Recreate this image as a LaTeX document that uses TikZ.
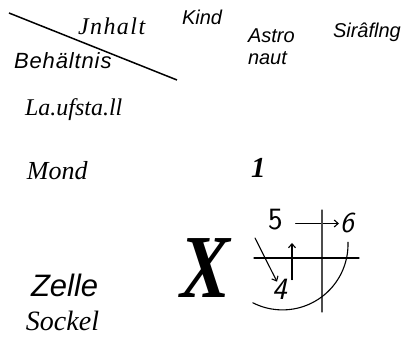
\documentclass[tikz,border=0pt]{standalone}
\usepackage{fontspec}
\setmainfont{Liberation Serif}
\newfontfamily\arialfont{Liberation Sans}
\usetikzlibrary{arrows.meta}

\begin{document}
\begin{tikzpicture}[x=1pt, y=-1pt, >={Straight Barb[length=4pt,width=7pt]}, thick,
	lbl/.style={anchor=base west, inner sep=0pt, outer sep=0pt},
	serif/.style={lbl, font=\fontsize{#1}{#1}\selectfont\itshape},
	arial/.style={lbl, font=\fontsize{#1}{#1}\selectfont\arialfont\itshape},
	spaced/.style 2 args={lbl, font=\itshape\addfontfeatures{LetterSpace=#2}\fontsize{#1}{#1}\selectfont},
	digit/.style={lbl, font=\fontsize{#1}{#1}\selectfont\sffamily},
	slantdigit/.style={lbl, font=\fontsize{#1}{#1}\selectfont\sffamily\itshape},
	skline/.style={line width=1.1pt, line cap=round}]
	\useasboundingbox (0,0) rectangle (405,347);

	% 1. 表头斜线
	\coordinate (diag0) at (9,13);
	\coordinate (diag1) at (177,80);
	\draw[line width=1.5pt] (diag0) -- (diag1);
	\node[spaced={24}{6}] (inhalt) at (78,35) {Jnhalt};
	\node[lbl, font=\arialfont\itshape\addfontfeatures{LetterSpace=4}\fontsize{22}{22}\selectfont] (behaelt) at (14,69) {Behältnis};

	% 2. 列标题
	\node[arial=20] (kind) at (182,25) {Kind};
	\node[arial=20] (astro) at (248,43) {Astro};
	\node[arial=20] (naut) at (248,65) {naut};
	\node[arial=20] (siraf) at (333,38) {Sirâflng};

	% 3. 行标题
	\node[serif=24] (stall) at (25,116) {La.ufsta.ll};
	\node[serif=26] (mond) at (27,180) {Mond};
	\node[arial=31] (zelle) at (31,297) {Zelle};
	\node[serif=28] (sockel) at (26,331) {Sockel};

	% 4. 表格内容
	\node[lbl, font=\fontsize{29}{29}\selectfont\bfseries\itshape] (eins) at (251,178) {1};
	\node[anchor=base, inner sep=0pt, xscale=0.83, font=\fontsize{90}{90}\selectfont\bfseries\itshape] (kreuz) at (205,298) {X};

	% 5. 手绘草图
	\node[digit=31] (five) at (268,230) {5};
	\node[slantdigit=29] (six) at (340,233) {6};
	\node[slantdigit=31] (four) at (272,300) {4};
	\draw[skline, ->, shorten <=13pt, shorten >=1pt] (five.east |- six.west) -- (six.west);
	% 十字线
	\coordinate (vert0) at (322,210);
	\coordinate (vert1) at (322,312);
	\coordinate (hori0) at (254,258);
	\coordinate (hori1) at (359,258);
	\draw[skline, black!70] (vert0) -- (vert1);
	\draw[skline] (hori0) -- (hori1);
	% 箭头
	\coordinate (up1) at (292,243);
	\draw[skline, ->] (four.north -| up1) -- (up1);
	\coordinate (dg0) at (255,238);
	\draw[skline, ->] (dg0) -- ([xshift=5pt,yshift=-2pt]four.north west);
	% 圆弧
	\draw[skline, domain=-2:117, samples=60] plot ({282.5+65.5*cos(\x)}, {244.4+65.5*sin(\x)});

\end{tikzpicture}
\end{document}
